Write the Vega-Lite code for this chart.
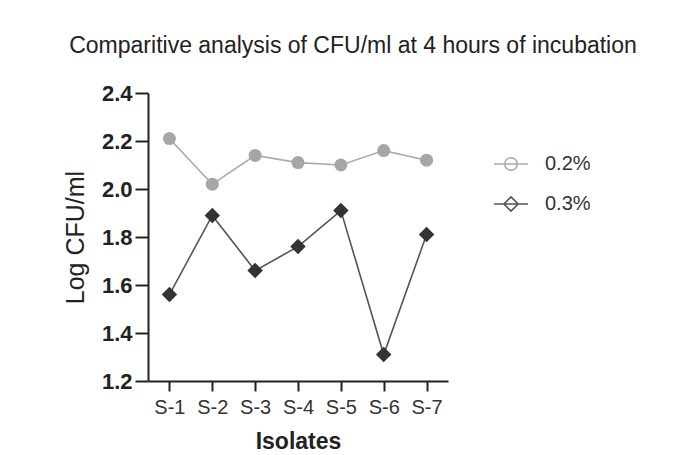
{
  "$schema": "https://vega.github.io/schema/vega-lite/v6.json",
  "autosize": {"type": "none"},
  "width": 300,
  "height": 288,
  "padding": {"left": 148, "top": 93, "right": 240, "bottom": 74},
  "background": "white",
  "title": {
    "text": "Comparitive analysis of CFU/ml at 4 hours of incubation",
    "font": "Liberation Sans",
    "fontSize": 23,
    "fontWeight": "normal",
    "color": "#222222",
    "anchor": "middle",
    "dx": 55,
    "offset": 24
  },
  "config": {
    "view": {"stroke": null},
    "font": "Liberation Sans"
  },
  "data": {
    "values": [
      {"isolate": "S-1", "series": "0.2%", "value": 2.21},
      {"isolate": "S-2", "series": "0.2%", "value": 2.02},
      {"isolate": "S-3", "series": "0.2%", "value": 2.14},
      {"isolate": "S-4", "series": "0.2%", "value": 2.11},
      {"isolate": "S-5", "series": "0.2%", "value": 2.10},
      {"isolate": "S-6", "series": "0.2%", "value": 2.16},
      {"isolate": "S-7", "series": "0.2%", "value": 2.12},
      {"isolate": "S-1", "series": "0.3%", "value": 1.56},
      {"isolate": "S-2", "series": "0.3%", "value": 1.89},
      {"isolate": "S-3", "series": "0.3%", "value": 1.66},
      {"isolate": "S-4", "series": "0.3%", "value": 1.76},
      {"isolate": "S-5", "series": "0.3%", "value": 1.91},
      {"isolate": "S-6", "series": "0.3%", "value": 1.31},
      {"isolate": "S-7", "series": "0.3%", "value": 1.81}
    ]
  },
  "encoding": {
    "x": {
      "field": "isolate",
      "type": "ordinal",
      "sort": ["S-1", "S-2", "S-3", "S-4", "S-5", "S-6", "S-7"],
      "scale": {"type": "point", "padding": 0.5},
      "axis": {
        "title": "Isolates",
        "titleFont": "Liberation Sans",
        "titleFontSize": 23,
        "titleFontWeight": "bold",
        "titleColor": "#222222",
        "titlePadding": 13,
        "labelAngle": 0,
        "labelFontSize": 20,
        "labelColor": "#333333",
        "labelPadding": 6,
        "domainColor": "#222222",
        "domainWidth": 2,
        "tickColor": "#222222",
        "tickWidth": 2,
        "tickSize": 10,
        "grid": false
      }
    },
    "y": {
      "field": "value",
      "type": "quantitative",
      "scale": {"domain": [1.2, 2.4], "nice": false, "zero": false},
      "axis": {
        "title": "Log CFU/ml",
        "titleFont": "Liberation Sans",
        "titleFontSize": 25,
        "titleFontWeight": "normal",
        "titleColor": "#222222",
        "titlePadding": 13,
        "values": [1.2, 1.4, 1.6, 1.8, 2.0, 2.2, 2.4],
        "format": ".1f",
        "labelFontSize": 22,
        "labelFontWeight": "bold",
        "labelColor": "#222222",
        "labelPadding": 3,
        "domainColor": "#222222",
        "domainWidth": 2,
        "tickColor": "#222222",
        "tickWidth": 2,
        "tickSize": 13,
        "grid": false
      }
    }
  },
  "layer": [
    {
      "mark": {"type": "line", "strokeWidth": 1.6},
      "encoding": {
        "detail": {"field": "series", "type": "nominal"},
        "stroke": {
          "condition": {"test": "datum.series === '0.2%'", "value": "#ababab"},
          "value": "#555555"
        }
      }
    },
    {
      "mark": {"type": "point", "filled": true, "opacity": 1},
      "encoding": {
        "color": {
          "condition": {"test": "datum.series === '0.2%'", "value": "#a6a6a6"},
          "value": "#333333"
        },
        "shape": {
          "condition": {"test": "datum.series === '0.2%'", "value": "circle"},
          "value": "diamond"
        },
        "size": {
          "condition": {"test": "datum.series === '0.2%'", "value": 169},
          "value": 240
        }
      }
    },
    {
      "mark": {"type": "point", "filled": true, "opacity": 0},
      "encoding": {
        "color": {
          "field": "series",
          "type": "nominal",
          "scale": {"domain": ["0.2%", "0.3%"], "range": ["#a6a6a6", "#333333"]},
          "legend": {
            "title": null,
            "orient": "none",
            "legendX": 345,
            "legendY": 53,
            "symbolSize": 1156,
            "symbolStrokeWidth": 1.6,
            "symbolOpacity": 1,
            "labelFontSize": 20,
            "labelColor": "#333333",
            "labelOffset": 16,
            "rowPadding": 12
          }
        },
        "stroke": {
          "field": "series",
          "type": "nominal",
          "scale": {"domain": ["0.2%", "0.3%"], "range": ["#ababab", "#555555"]}
        },
        "shape": {
          "field": "series",
          "type": "nominal",
          "scale": {
            "domain": ["0.2%", "0.3%"],
            "range": [
              "M-1,0L1,0M0.37,0A0.37,0.37 0 1 1 -0.37,0A0.37,0.37 0 1 1 0.37,0Z",
              "M-1,0L1,0M0,-0.42L0.42,0L0,0.42L-0.42,0Z"
            ]
          }
        }
      }
    }
  ]
}
